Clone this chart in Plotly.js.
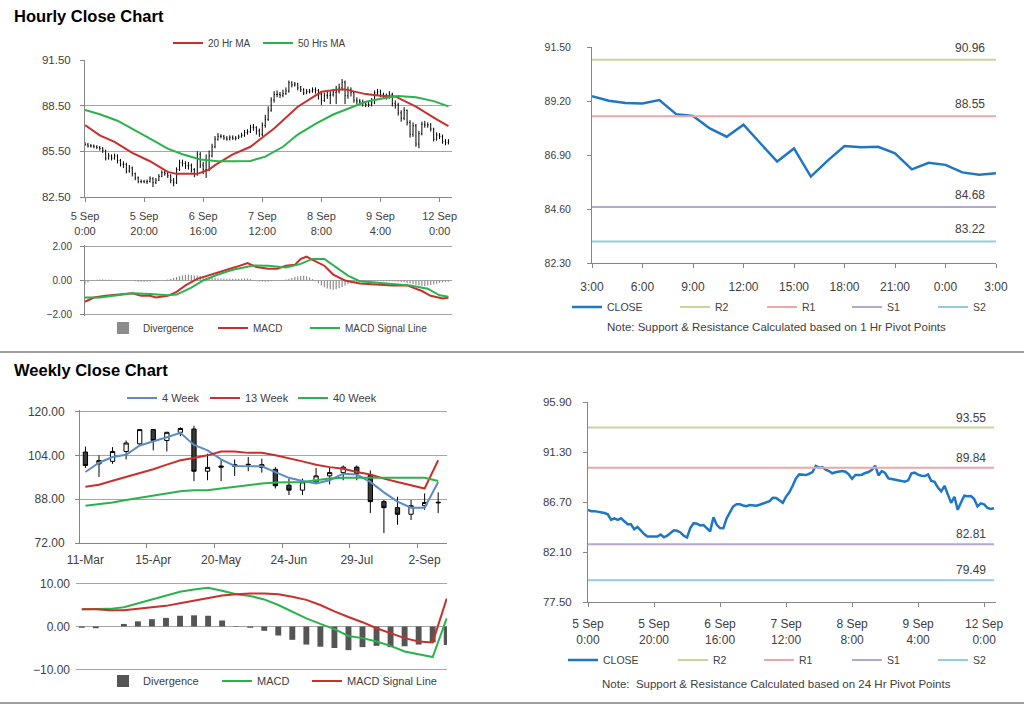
<!DOCTYPE html>
<html><head><meta charset="utf-8">
<script src="https://cdn.plot.ly/plotly-3.0.1.min.js"></script>
<style>html,body{margin:0;padding:0;background:#fff}#chart{width:1024px;height:706px}</style>
</head><body><div id="chart"></div>
<script>
// ---------- DATA ----------
const hourTickIdx = [0, 20, 40, 60, 80, 100, 120];
const hourLabels = ['5 Sep<br>0:00', '5 Sep<br>20:00', '6 Sep<br>16:00', '7 Sep<br>12:00', '8 Sep<br>8:00', '9 Sep<br>4:00', '12 Sep<br>0:00'];

const firstOpen = 86.00;
const hourlyClose = [85.96,85.85,85.86,85.81,85.75,85.69,85.57,85.05,85.20,85.05,
  85.20,84.90,84.65,84.65,84.20,84.41,84.05,83.75,83.52,83.52,
  83.50,83.52,83.70,83.45,83.60,83.85,84.10,84.05,83.90,83.60,
  83.43,84.30,84.75,84.70,84.55,84.58,84.30,84.00,85.30,84.60,
  84.30,84.28,85.20,85.80,86.30,86.49,86.49,86.38,86.31,86.42,
  86.36,86.36,86.45,86.55,86.72,86.78,87.08,87.06,86.85,86.62,
  87.20,87.60,88.20,88.87,89.24,89.24,89.18,89.30,89.46,90.01,
  89.86,89.92,89.67,89.55,89.34,89.43,89.46,89.55,89.49,89.24,
  88.84,89.18,89.18,89.21,89.37,89.46,89.67,90.04,89.15,89.55,
  89.37,88.87,88.81,88.75,88.63,88.57,88.57,88.69,89.34,89.40,
  89.21,89.12,89.09,89.24,88.64,88.56,88.03,87.68,88.19,87.40,
  86.62,87.18,85.98,86.66,87.28,87.23,87.25,86.97,86.29,86.57,
  86.48,86.16,86.06,86.12];
const hourlyHigh = [86.10,86.05,85.98,85.95,85.90,85.85,85.78,85.60,85.40,85.30,
  85.35,85.30,85.00,84.85,84.75,84.60,84.50,84.10,83.85,83.65,
  83.62,83.65,83.85,83.80,83.75,84.00,84.25,84.25,84.15,84.00,
  83.75,84.45,84.95,84.95,84.85,84.80,84.70,84.40,85.50,85.45,
  84.80,85.30,85.55,86.00,86.50,86.70,86.62,86.58,86.50,86.55,
  86.55,86.50,86.60,86.72,86.90,86.95,87.25,87.30,87.15,87.00,
  87.40,87.90,88.45,89.05,89.45,89.50,89.40,89.55,89.70,90.15,
  90.10,90.05,90.00,89.80,89.65,89.60,89.60,89.70,89.70,89.60,
  89.40,89.35,89.40,89.45,89.60,89.80,89.95,90.25,90.15,89.75,
  89.70,89.45,89.05,88.95,88.90,88.80,88.80,89.00,89.50,89.60,
  89.55,89.35,89.30,89.45,89.35,88.85,88.70,88.20,88.40,88.25,
  87.55,87.40,87.30,86.85,87.45,87.50,87.40,87.35,87.05,86.75,
  86.70,86.60,86.30,86.30];
const hourlyLow = [85.85,85.75,85.75,85.70,85.65,85.55,85.40,84.90,84.95,84.90,
  84.95,84.70,84.50,84.40,84.05,84.10,83.85,83.60,83.40,83.40,
  83.40,83.35,83.45,83.15,83.35,83.55,83.80,83.90,83.75,83.40,
  83.20,83.35,84.20,84.50,84.35,84.30,84.10,83.80,83.90,84.40,
  84.00,83.75,84.20,85.10,85.70,86.20,86.35,86.25,86.20,86.22,
  86.25,86.22,86.30,86.40,86.45,86.60,86.70,86.85,86.60,86.45,
  86.50,87.05,87.50,88.10,88.70,89.05,89.00,89.05,89.20,89.35,
  89.70,89.75,89.50,89.40,89.20,89.25,89.30,89.35,89.30,88.90,
  88.55,88.75,88.95,88.60,89.10,88.60,89.30,89.50,88.60,88.95,
  89.10,88.70,88.60,88.55,88.45,88.40,88.40,88.45,88.60,89.20,
  89.05,88.95,88.90,88.95,88.45,88.30,87.85,87.45,87.55,87.20,
  86.40,86.45,85.80,85.70,86.55,87.05,87.05,86.80,86.15,86.20,
  86.30,86.00,85.90,85.95];

const ma20Idx = [0,5,10,16,22,28,31,38,42,44,50,56,61,64,72,80,86,88,95,100,105,112,119,123];
const ma20 = [87.22,86.55,86.12,85.40,84.85,84.15,84.02,84.02,84.30,84.59,85.30,85.80,86.56,87.00,88.43,89.41,89.57,89.57,89.26,89.15,89.11,88.43,87.60,87.15];
const ma50Idx = [0,5,11,16,22,28,33,39,45,50,56,61,67,72,78,84,90,95,101,106,112,118,123];
const ma50 = [88.21,87.94,87.51,87.00,86.34,85.68,85.31,84.96,84.85,84.85,84.87,85.15,85.80,86.60,87.30,87.92,88.40,88.76,88.98,89.13,89.05,88.80,88.45];

const macdIdx = [0,3,7,12,16,19,22,24,28,31,34,38,41,45,48,51,55,58,62,65,68,71,73,75,77,81,84,88,93,99,104,109,114,117,121,123];
const macdH = [-1.25,-1.0,-0.9,-0.83,-0.75,-0.9,-0.9,-1.0,-0.9,-0.67,-0.29,0.1,0.25,0.48,0.63,0.79,1.02,0.79,0.69,0.69,0.87,0.92,1.27,1.40,1.21,0.87,0.35,0.0,-0.17,-0.23,-0.29,-0.29,-0.62,-0.9,-1.06,-1.02];
const sigIdx = [0,5,11,16,22,28,31,36,40,45,50,57,62,68,73,77,81,84,89,93,99,104,110,116,120,123];
const sigH = [-1.0,-1.0,-0.87,-0.75,-0.79,-0.87,-0.83,-0.42,0.0,0.35,0.63,0.88,0.87,0.77,0.98,1.27,1.27,0.92,0.29,-0.04,-0.13,-0.23,-0.29,-0.48,-0.87,-0.96];
const divH = [-0.20,-0.10,-0.02,0.03,0.05,0.06,0.06,0.05,0.05,0.04,
  0.03,0.02,0.02,0.02,0.01,0.00,-0.02,-0.05,-0.07,-0.08,
  -0.08,-0.07,-0.06,-0.05,-0.04,-0.02,0.00,0.03,0.06,0.10,
  0.15,0.20,0.25,0.30,0.33,0.35,0.33,0.30,0.30,0.26,
  0.22,0.18,0.16,0.15,0.14,0.13,0.12,0.12,0.11,0.10,
  0.10,0.10,0.11,0.12,0.13,0.12,0.08,0.03,-0.02,-0.06,
  -0.08,-0.08,-0.07,-0.05,-0.03,-0.01,0.01,0.03,0.06,0.10,
  0.15,0.20,0.24,0.27,0.28,0.25,0.18,0.08,-0.05,-0.18,
  -0.30,-0.40,-0.47,-0.52,-0.54,-0.52,-0.46,-0.38,-0.30,-0.22,
  -0.16,-0.12,-0.10,-0.09,-0.08,-0.08,-0.07,-0.06,-0.05,-0.04,
  -0.04,-0.04,-0.04,-0.05,-0.05,-0.06,-0.07,-0.09,-0.11,-0.14,
  -0.18,-0.22,-0.26,-0.29,-0.31,-0.32,-0.30,-0.27,-0.23,-0.19,
  -0.15,-0.12,-0.09,-0.07];

const dayTickIdx = [0,3,6,9,12,15,18,21,24];
const dayLabels = ['3:00','6:00','9:00','12:00','15:00','18:00','21:00','0:00','3:00'];
const pivotNames = ['R2','R1','S1','S2'];
const pivotColors = ['#C3D69B','#EBA7A7','#B6A6D2','#93CDDD'];
const pivot1h = [90.96, 88.55, 84.68, 83.22];
const pivot24h = [93.55, 89.84, 82.81, 79.49];

const weekDates = ['11-Mar','18-Mar','25-Mar','1-Apr','8-Apr','15-Apr','22-Apr','29-Apr','6-May','13-May','20-May','27-May','3-Jun','10-Jun','17-Jun','24-Jun','1-Jul','8-Jul','15-Jul','22-Jul','29-Jul','5-Aug','12-Aug','19-Aug','26-Aug','2-Sep','9-Sep'];
const weekOpen  = [105.2,100.9,101.8,105.4,108.2,113.4,109.4,112.4,113.6,98.2,100.1,100.0,100.5,100.6,98.9,93.1,91.3,94.3,96.5,97.7,99.7,96.7,87.1,84.9,82.5,85.6,86.9];
const weekHigh  = [107.2,104.0,107.0,109.4,113.6,113.6,112.6,114.2,114.8,104.6,102.2,102.5,103.4,102.8,99.7,95.5,95.5,99.4,99.4,100.3,100.3,98.5,87.7,88.9,87.7,90.1,90.5];
const weekLow   = [99.4,96.1,100.9,102.5,107.6,105.8,105.4,111.0,94.6,94.9,94.6,96.5,98.2,97.7,91.9,89.5,89.5,93.7,93.4,94.9,94.9,82.9,75.6,78.6,80.4,84.1,82.9];
const weekClose = [100.3,102.1,105.4,108.5,113.4,109.4,112.4,113.8,98.2,99.6,99.7,100.6,100.7,99.6,92.9,91.3,94.3,96.5,97.7,99.7,97.3,87.1,84.9,82.5,85.6,86.8,86.7];
const wk4  = [97.9,101.3,103.4,104.2,107.6,109.0,110.6,112.2,107.8,105.8,102.5,100.1,100.0,100.0,97.9,95.8,94.6,93.7,94.9,97.3,97.0,94.3,90.5,87.1,84.9,84.9,94.3];
const wk13 = [92.5,93.3,94.7,96.1,97.7,98.9,100.6,102.2,103.0,104.0,105.4,105.4,104.9,104.9,104.0,103.0,101.8,100.6,99.7,99.1,97.9,97.0,95.5,94.3,93.1,91.9,102.2];
const wk40 = [85.6,86.1,86.8,87.7,88.5,89.5,90.3,90.9,91.3,91.3,91.9,92.5,93.3,93.7,94.1,94.3,94.3,94.9,95.5,95.8,95.8,95.8,95.8,95.8,95.8,95.8,94.6];
const wMacd = [4.0,4.0,4.1,4.5,5.4,6.3,7.3,8.1,8.6,9.0,8.3,7.5,7.1,6.3,5.0,3.5,1.9,0.6,-0.6,-2.2,-2.7,-3.5,-4.5,-5.8,-6.5,-7.1,1.9];
const wSig  = [4.0,4.0,3.8,3.8,4.1,4.4,4.8,5.4,6.0,6.5,7.2,7.5,7.7,7.7,7.5,6.9,6.2,5.0,3.5,2.2,1.0,-0.4,-1.5,-2.7,-3.5,-3.7,6.5];
const wDiv  = [-0.3,-0.4,0.0,0.6,1.2,1.7,2.0,2.5,2.6,2.5,1.4,0.1,-0.3,-1.0,-2.1,-3.1,-4.2,-4.7,-5.0,-5.5,-4.8,-4.5,-4.8,-4.6,-4.2,-3.7,-4.3];

// ---------- HELPERS ----------
const W = 1024, H = 706;
const dx = (a, b) => [a / W, b / W];
const dy = (t, b) => [1 - b / H, 1 - t / H];
const FONT = 'Arial, "Liberation Sans", sans-serif';
const TXT = '#404040', AXC = '#868686', GRID = '#A6A6A6';
const RED = '#C9302C', GREEN = '#2BB24C', BLUE = '#1F77C4';

function ax(o, fs) {
  return Object.assign({
    showline: true, linecolor: AXC, linewidth: 1, ticks: 'outside', ticklen: 4,
    tickcolor: AXC, tickwidth: 1, tickfont: {family: FONT, size: fs || 11, color: TXT},
    zeroline: false, showgrid: false, gridcolor: GRID, gridwidth: 1, fixedrange: true, automargin: false
  }, o);
}
function lg(x, y, size) {
  return {x: x / W, y: 1 - y / H, xanchor: 'left', yanchor: 'middle', orientation: 'h',
    bgcolor: 'rgba(0,0,0,0)', borderwidth: 0, itemclick: false, itemdoubleclick: false,
    font: {family: FONT, size: size, color: TXT}};
}

const hourIdx = hourlyClose.map((_, i) => i);
const hourlyOpen = [firstOpen].concat(hourlyClose.slice(0, -1));
const lastDay = hourlyClose.slice(hourlyClose.length - 25);
const dayIdx = lastDay.map((_, i) => i);

const traces = [];
// Top-left hourly bars
traces.push({type: 'ohlc', x: hourIdx, open: hourlyOpen, high: hourlyHigh, low: hourlyLow, close: hourlyClose,
  xaxis: 'x', yaxis: 'y', tickwidth: 0.25, showlegend: false, hoverinfo: 'skip',
  increasing: {line: {color: '#000', width: 1}}, decreasing: {line: {color: '#000', width: 1}}});
traces.push({type: 'scatter', mode: 'lines', x: ma20Idx, y: ma20, name: '20 Hr MA', xaxis: 'x', yaxis: 'y',
  line: {color: RED, width: 2}, legend: 'legend', legendwidth: 45, hoverinfo: 'skip'});
traces.push({type: 'scatter', mode: 'lines', x: ma50Idx, y: ma50, name: '50 Hrs MA', xaxis: 'x', yaxis: 'y',
  line: {color: GREEN, width: 2}, legend: 'legend', hoverinfo: 'skip'});
// Top-left MACD
traces.push({type: 'bar', x: hourIdx, y: divH, name: 'Divergence', xaxis: 'x2', yaxis: 'y2', width: 0.4,
  marker: {color: '#8C8C8C'}, legend: 'legend2', legendwidth: 65, hoverinfo: 'skip'});
traces.push({type: 'scatter', mode: 'lines', x: macdIdx, y: macdH, name: 'MACD', xaxis: 'x2', yaxis: 'y2',
  line: {color: RED, width: 2}, legend: 'legend2', legendwidth: 47, hoverinfo: 'skip'});
traces.push({type: 'scatter', mode: 'lines', x: sigIdx, y: sigH, name: 'MACD Signal Line', xaxis: 'x2', yaxis: 'y2',
  line: {color: GREEN, width: 2}, legend: 'legend2', hoverinfo: 'skip'});
// Top-right
traces.push({type: 'scatter', mode: 'lines', x: dayIdx, y: lastDay, name: 'CLOSE', xaxis: 'x3', yaxis: 'y3',
  line: {color: BLUE, width: 2.5}, legend: 'legend3', legendwidth: 63, hoverinfo: 'skip'});
const lw3 = [42, 40, 41, null];
pivotNames.forEach((n, k) => {
  const t = {type: 'scatter', mode: 'lines', x: [dayIdx[0], dayIdx[dayIdx.length - 1]], y: [pivot1h[k], pivot1h[k]],
    name: n, xaxis: 'x3', yaxis: 'y3', line: {color: pivotColors[k], width: 2}, legend: 'legend3', hoverinfo: 'skip'};
  if (lw3[k]) t.legendwidth = lw3[k];
  traces.push(t);
});
// Bottom-left weekly
traces.push({type: 'candlestick', x: weekDates, open: weekOpen, high: weekHigh, low: weekLow, close: weekClose,
  xaxis: 'x4', yaxis: 'y4', showlegend: false, hoverinfo: 'skip', whiskerwidth: 0,
  increasing: {line: {color: '#000', width: 1}, fillcolor: '#FFFFFF'},
  decreasing: {line: {color: '#000', width: 1}, fillcolor: '#3A3A3A'}});
traces.push({type: 'scatter', mode: 'lines', x: weekDates, y: wk4, name: '4 Week', xaxis: 'x4', yaxis: 'y4',
  line: {color: '#5B8BC9', width: 2}, legend: 'legend4', legendwidth: 38, hoverinfo: 'skip'});
traces.push({type: 'scatter', mode: 'lines', x: weekDates, y: wk13, name: '13 Week', xaxis: 'x4', yaxis: 'y4',
  line: {color: RED, width: 2}, legend: 'legend4', legendwidth: 43, hoverinfo: 'skip'});
traces.push({type: 'scatter', mode: 'lines', x: weekDates, y: wk40, name: '40 Week', xaxis: 'x4', yaxis: 'y4',
  line: {color: GREEN, width: 2}, legend: 'legend4', hoverinfo: 'skip'});
// Bottom-left weekly MACD
traces.push({type: 'bar', x: weekDates, y: wDiv, name: 'Divergence', xaxis: 'x5', yaxis: 'y5', width: 0.42,
  marker: {color: '#555555'}, legend: 'legend5', legendwidth: 69, hoverinfo: 'skip'});
traces.push({type: 'scatter', mode: 'lines', x: weekDates, y: wMacd, name: 'MACD', xaxis: 'x5', yaxis: 'y5',
  line: {color: GREEN, width: 2}, legend: 'legend5', legendwidth: 45, hoverinfo: 'skip'});
traces.push({type: 'scatter', mode: 'lines', x: weekDates, y: wSig, name: 'MACD Signal Line', xaxis: 'x5', yaxis: 'y5',
  line: {color: RED, width: 2}, legend: 'legend5', hoverinfo: 'skip'});
// Bottom-right
traces.push({type: 'scatter', mode: 'lines', x: hourIdx, y: hourlyClose, name: 'CLOSE', xaxis: 'x6', yaxis: 'y6',
  line: {color: BLUE, width: 2.5}, legend: 'legend6', legendwidth: 65, hoverinfo: 'skip'});
const lw6 = [41, 43, 41, null];
pivotNames.forEach((n, k) => {
  const t = {type: 'scatter', mode: 'lines', x: [hourIdx[0], hourIdx[hourIdx.length - 1]], y: [pivot24h[k], pivot24h[k]],
    name: n, xaxis: 'x6', yaxis: 'y6', line: {color: pivotColors[k], width: 2}, legend: 'legend6', hoverinfo: 'skip'};
  if (lw6[k]) t.legendwidth = lw6[k];
  traces.push(t);
});

const annotations = [
  {text: '<b>Hourly Close Chart</b>', x: 12 / W, y: 1 - 16 / H, xref: 'paper', yref: 'paper', xanchor: 'left', yanchor: 'middle',
    showarrow: false, font: {family: FONT, size: 16.5, color: '#000'}},
  {text: '<b>Weekly Close Chart</b>', x: 12 / W, y: 1 - 370 / H, xref: 'paper', yref: 'paper', xanchor: 'left', yanchor: 'middle',
    showarrow: false, font: {family: FONT, size: 16.5, color: '#000'}},
  {text: 'Note: Support &amp; Resistance Calculated based on 1 Hr Pivot Points', x: 776 / W, y: 1 - 327 / H,
    xref: 'paper', yref: 'paper', xanchor: 'center', yanchor: 'middle', showarrow: false, font: {family: FONT, size: 11.5, color: TXT}},
  {text: 'Note:\u00a0 Support &amp; Resistance Calculated based on 24 Hr Pivot Points', x: 776 / W, y: 1 - 684 / H,
    xref: 'paper', yref: 'paper', xanchor: 'center', yanchor: 'middle', showarrow: false, font: {family: FONT, size: 11.5, color: TXT}}
];
pivot1h.forEach(v => annotations.push({text: v.toFixed(2), x: dayIdx[dayIdx.length - 1], y: v, xref: 'x3', yref: 'y3',
  xanchor: 'right', yanchor: 'middle', xshift: -9, yshift: 12, showarrow: false, font: {family: FONT, size: 12, color: TXT}}));
pivot24h.forEach(v => annotations.push({text: v.toFixed(2), x: hourIdx[hourIdx.length - 1], y: v, xref: 'x6', yref: 'y6',
  xanchor: 'right', yanchor: 'middle', xshift: -6, yshift: 10, showarrow: false, font: {family: FONT, size: 12, color: TXT}}));

// Ranges of the MACD panels and the weekly price panel are padded very slightly so that
// the grid lines at their outer tick values (which Plotly drops at the exact range ends) are drawn.
const layout = {
  width: W, height: H, margin: {l: 0, r: 0, t: 0, b: 0}, paper_bgcolor: '#fff', plot_bgcolor: 'rgba(0,0,0,0)',
  font: {family: FONT, color: TXT}, boxgap: 0.55, hovermode: false,
  xaxis: ax({domain: dx(85, 452), anchor: 'y', range: [0, 124.2], tickmode: 'array', tickvals: hourTickIdx, ticktext: hourLabels,
    rangeslider: {visible: false}, ticklabelstandoff: 5, tickangle: 0}, 11),
  yaxis: ax({domain: dy(60, 197), anchor: 'x', range: [82.5, 91.5], tick0: 82.5, dtick: 3, tickformat: '.2f',
    showgrid: true, ticklabelstandoff: 7}, 11.5),
  xaxis2: ax({domain: dx(85, 452), anchor: 'y2', range: [0, 124.2], ticks: '', showticklabels: false, showline: false}),
  yaxis2: ax({domain: dy(245, 316), anchor: 'x2', range: [-2.09, 2.09], tick0: 0, dtick: 2, tickformat: '.2f', showgrid: true, ticklabelstandoff: 6}, 10),
  xaxis3: ax({domain: dx(592, 996), anchor: 'y3', range: [0, 24], tickmode: 'array', tickvals: dayTickIdx, ticktext: dayLabels,
    ticklabelstandoff: 9, tickangle: 0}, 12),
  yaxis3: ax({domain: dy(47, 263), anchor: 'x3', range: [82.3, 91.5], tick0: 82.3, dtick: 2.3, tickformat: '.2f', ticklabelstandoff: 14}, 10.5),
  xaxis4: ax({domain: dx(80, 447), anchor: 'y4', type: 'category', range: [-0.4, 26.65], tickmode: 'linear', tick0: 0, dtick: 5,
    tickson: 'boundaries', rangeslider: {visible: false}, ticklabelstandoff: 6, tickangle: 0}, 12),
  yaxis4: ax({domain: dy(410, 543), anchor: 'x4', range: [72, 120.55], tick0: 72, dtick: 16, tickformat: '.2f', showgrid: true, ticklabelstandoff: 8}, 12),
  xaxis5: ax({domain: dx(76, 447), anchor: 'y5', type: 'category', range: [-0.41, 26.02], ticks: '', showticklabels: false, showline: false}),
  yaxis5: ax({domain: dy(582, 671), anchor: 'x5', range: [-10.35, 10.35], tick0: 0, dtick: 10, tickformat: '.2f', showgrid: true, ticklabelstandoff: 5, showline: false, ticks: ''}, 12),
  xaxis6: ax({domain: dx(588, 996), anchor: 'y6', range: [0, 123.6], tickmode: 'array', tickvals: hourTickIdx, ticktext: hourLabels,
    ticklabelstandoff: 7, tickangle: 0}, 12),
  yaxis6: ax({domain: dy(402, 602), anchor: 'x6', range: [77.5, 95.9], tick0: 77.5, dtick: 4.6, tickformat: '.2f', ticklabelstandoff: 9}, 11.5),
  legend: lg(168, 43, 10),
  legend2: lg(103, 328, 10),
  legend3: lg(567, 307, 10.5),
  legend4: lg(122, 398, 11),
  legend5: lg(103, 681, 11),
  legend6: lg(563, 660, 10.5),
  annotations: annotations,
  shapes: [
    {type: 'line', xref: 'paper', yref: 'paper', x0: 0, x1: 1, y0: 1 - 352 / H, y1: 1 - 352 / H, line: {color: '#7F7F7F', width: 1.5}},
    {type: 'line', xref: 'paper', yref: 'paper', x0: 0, x1: 1, y0: 1 - 703 / H, y1: 1 - 703 / H, line: {color: '#7F7F7F', width: 1.5}}
  ]
};

Plotly.newPlot('chart', traces, layout, {staticPlot: true, displayModeBar: false});
</script>
</body></html>
